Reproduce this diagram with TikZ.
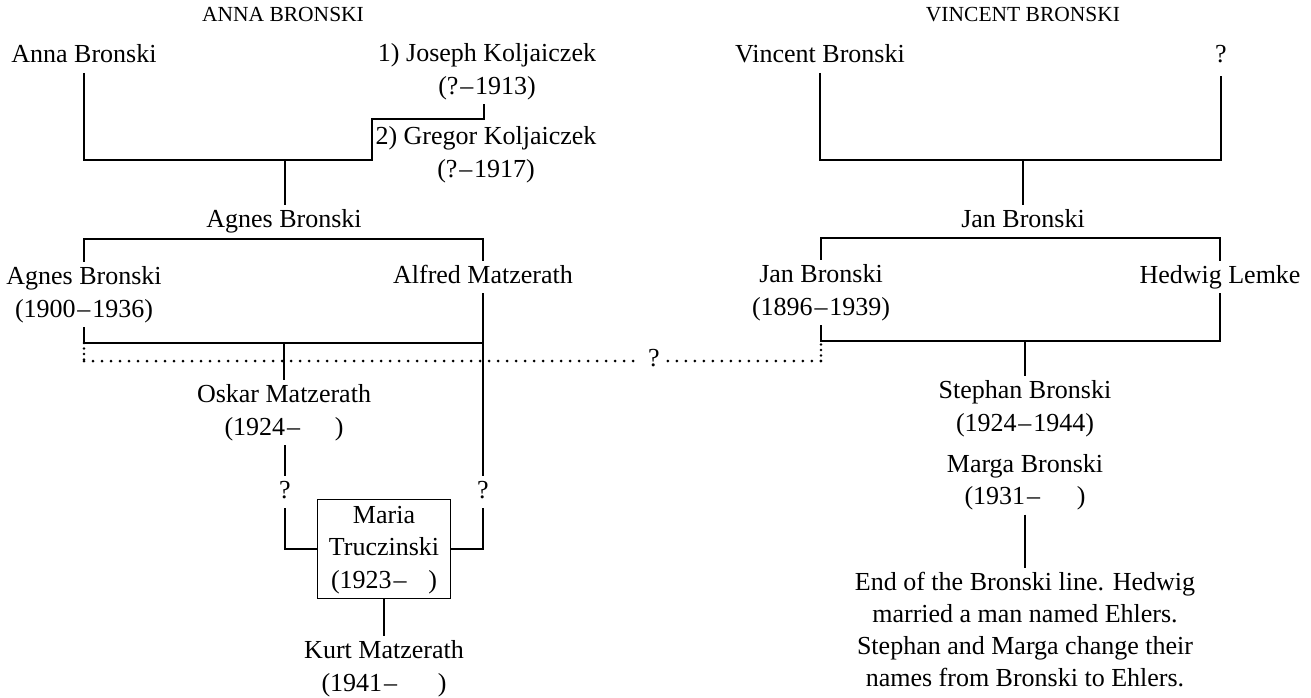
\documentclass[tikz,border=0pt]{standalone}
\usepackage{fontspec}
\setmainfont{Liberation Serif}
\newcommand{\dd}{\kern0.07em–\kern0.07em}
\tikzset{
  nm/.style={inner sep=0pt, font=\fontsize{26}{32.5}\selectfont, align=center},
  hd/.style={inner sep=0pt, font=\fontsize{21.5}{27}\selectfont},
  ln/.style={line width=1.7pt},
  dots/.style={line width=3pt, line cap=round, dash pattern=on 0pt off 9pt},
  vdots/.style={line width=2.6pt, line cap=round, dash pattern=on 0pt off 5.5pt},
  boxn/.style={draw, line width=1.7pt, minimum width=133pt, minimum height=99pt, inner sep=0pt}
}
\begin{document}
\begin{tikzpicture}[x=1pt,y=-1pt]
\useasboundingbox (0,0) rectangle (1311,698);
\fill[white] (0,0) rectangle (1311,698);
% headers
\node[hd] (hA) at (283,16) {\strut ANNA BRONSKI};
\node[hd] (hV) at (1023,16) {\strut VINCENT BRONSKI};
% left tree
\node[nm] (anna) at (84,56.5) {\strut Anna Bronski};
\node[nm] (joseph) at (487,71.5) {\strut 1) Joseph Koljaiczek\\\strut(?\dd1913)};
\node[nm] (gregor) at (486,154.5) {\strut 2) Gregor Koljaiczek\\\strut(?\dd1917)};
\node[nm] (agnesA) at (284,221) {\strut Agnes Bronski};
\node[nm] (agnesB) at (84,294.5) {\strut Agnes Bronski\\\strut(1900\dd1936)};
\node[nm] (alfred) at (483,277) {\strut Alfred Matzerath};
\node[nm] (oskar) at (284,412.5) {\strut Oskar Matzerath\\\strut(1924\dd\hspace*{33pt})};
\node[nm] (qO) at (285,492) {\strut ?};
\node[nm] (qA) at (483,492) {\strut ?};
\node[nm,boxn] (maria) at (384,549) {\strut Maria\\\strut Truczinski\\\strut(1923\dd\hspace*{20pt})};
\node[nm] (kurt) at (384,668.5) {\strut Kurt Matzerath\\\strut(1941\dd\hspace*{39pt})};
\node[nm] (qM) at (654,360) {\strut ?};
% right tree
\node[nm] (vincent) at (820,56.5) {\strut Vincent Bronski};
\node[nm] (qV) at (1221,56) {\strut ?};
\node[nm] (janA) at (1023,221) {\strut Jan Bronski};
\node[nm] (janB) at (821,292.5) {\strut Jan Bronski\\\strut(1896\dd1939)};
\node[nm] (hedwig) at (1220,277) {\strut Hedwig Lemke};
\node[nm] (stephan) at (1025,408.5) {\strut Stephan Bronski\\\strut(1924\dd1944)};
\node[nm] (marga) at (1025,482) {\strut Marga Bronski\\\strut(1931\dd\hspace*{35pt})};
\node[nm, font=\fontsize{26}{32}\selectfont] (endn) at (1025,632)
  {\strut End of the Bronski line. Hedwig\\\strut married a man named Ehlers.\\\strut Stephan and Marga change their\\\strut names from Bronski to Ehlers.};
% helper coordinates
\coordinate (cA1) at (372,160);
\coordinate (cA2) at (484,119);
\coordinate (kA) at (285,160);
\coordinate (bA) at (0,239);
\coordinate (bB) at (0,343);
\coordinate (dy) at (0,361);
\coordinate (vR) at (0,160);
\coordinate (bR1) at (0,238);
\coordinate (bR2) at (0,341);
% left connectors
\draw[ln] (anna.south) |- (cA1) |- (cA2) -- (cA2 |- joseph.south);
\draw[ln] (agnesA.north -| kA) -- (kA);
\draw[ln] (agnesB.north) -- (agnesB.north |- bA) -| (alfred.north);
\draw[ln] (agnesB.south) |- (bB -| alfred.south);
\draw[ln] (alfred.south) -- (alfred.south |- qA.north);
\draw[ln] (qA.south) |- (maria.east);
\draw[ln] (oskar.north) -- (oskar.north |- bB);
\draw[ln] (qO.north |- oskar.south) -- (qO.north);
\draw[ln] (qO.south) |- (maria.west);
\draw[ln] (maria.south) -- (maria.south |- kurt.north);
% dotted link
\draw[vdots] (agnesB.south |- bB) -- (agnesB.south |- dy);
\draw[dots] (agnesB.south |- dy) -- ([xshift=-8pt]qM.west |- dy);
\draw[dots] ([xshift=8pt]qM.east |- dy) -- (janB.south |- dy);
\draw[vdots] (janB.south |- dy) -- (janB.south |- bR2);
% right connectors
\draw[ln] (vincent.south) |- (vR -| qV.south) -- ([yshift=-4pt]qV.south);
\draw[ln] (janA.north) -- (janA.north |- vR);
\draw[ln] (janB.north) |- (bR1 -| hedwig.north) -- (hedwig.north);
\draw[ln] (janB.south) |- (bR2 -| hedwig.south) -- (hedwig.south);
\draw[ln] (stephan.north) -- (stephan.north |- bR2);
\draw[ln] (marga.south) -- (endn.north);
\end{tikzpicture}
\end{document}
